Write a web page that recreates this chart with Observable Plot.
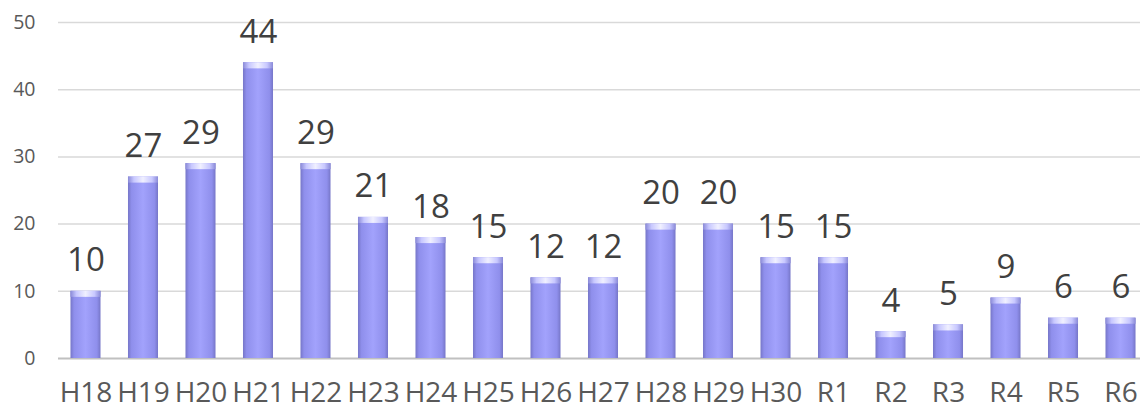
<!DOCTYPE html>
<html><head><meta charset="utf-8">
<script src="https://cdn.jsdelivr.net/npm/d3@7"></script>
<script src="https://cdn.jsdelivr.net/npm/@observablehq/plot@0.6"></script>
<style>
html,body{margin:0;padding:0;background:#fff;}
#chart{width:1142px;height:409px;overflow:hidden;}
</style>
</head><body>
<div id="chart"></div>
<script>
const categories = ["H18","H19","H20","H21","H22","H23","H24","H25","H26","H27","H28","H29","H30","R1","R2","R3","R4","R5","R6"];
const values = [10,27,29,44,29,21,18,15,12,12,20,20,15,15,4,5,9,6,6];
const yTicks = [0,10,20,30,40,50];

const data = categories.map((c,i)=>({cat:c, v:values[i]}));
const font = "'Open Sans', 'Noto Sans', sans-serif";

const plot = Plot.plot({
  width: 1142,
  height: 409,
  marginLeft: 58,
  marginRight: 2,
  marginTop: 22,
  marginBottom: 51,
  style: {fontFamily: font, background: "#fff", overflow: "visible"},
  x: {domain: categories, insetLeft: -15, insetRight: -23, padding: 0.478, round: false, label: null},
  y: {domain: [0, 50], label: null},
  marks: [
    Plot.ruleY(yTicks.filter(d=>d>0), {stroke: "#d9d9d9", strokeWidth: 1.5}),
    Plot.ruleY([0], {stroke: "#c0c0c0", strokeWidth: 2}),
    Plot.axisY({ticks: yTicks, tickSize: 0, tickPadding: 23, fontSize: 19.5, fill: "#595959", label: null}),
    Plot.axisX({tickSize: 0, tickPadding: 24, fontSize: 28, fill: "#595959", label: null}),
    Plot.barY(data, {x: "cat", y: "v", fill: "url(#barGrad)"}),
    Plot.barY(data, {x: "cat", y1: d => d.v - 0.9, y2: "v", fill: "url(#capGrad)"}),
    Plot.text(data, {x: "cat", y: "v", text: d => String(d.v), lineAnchor: "bottom", dy: -20, fontSize: 33, fill: "#404040"})
  ]
});

const svgNS = "http://www.w3.org/2000/svg";
const defs = document.createElementNS(svgNS, "defs");
defs.innerHTML = `
<linearGradient id="barGrad" x1="0" y1="0" x2="1" y2="0">
  <stop offset="0" stop-color="#7676c8"/>
  <stop offset="0.12" stop-color="#8f8fec"/>
  <stop offset="0.5" stop-color="#a2a2fc"/>
  <stop offset="0.88" stop-color="#8f8fec"/>
  <stop offset="1" stop-color="#7676c8"/>
</linearGradient>
<linearGradient id="capGrad" x1="0" y1="0" x2="1" y2="0">
  <stop offset="0" stop-color="#8a8ad8"/>
  <stop offset="0.2" stop-color="#c8c8ff"/>
  <stop offset="0.5" stop-color="#f0f0ff"/>
  <stop offset="0.8" stop-color="#c8c8ff"/>
  <stop offset="1" stop-color="#8a8ad8"/>
</linearGradient>`;
plot.insertBefore(defs, plot.firstChild);
const s = d3.select(plot);
s.selectAll("g[aria-label='x-axis tick label'] text").style("font-size", "28px").style("font-family", "'Open Sans'");
s.selectAll("g[aria-label='y-axis tick label'] text").style("font-size", "19.5px").style("font-family", "'Open Sans'");
s.selectAll("g[aria-label='text'] text").style("font-family", "'Open Sans'");
document.getElementById("chart").appendChild(plot);
</script>
</body></html>
